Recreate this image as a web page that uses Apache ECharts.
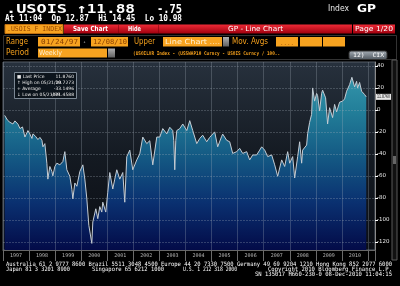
<!DOCTYPE html>
<html><head><meta charset="utf-8">
<script src="https://cdn.jsdelivr.net/npm/echarts@6/dist/echarts.min.js"></script>
<style>html,body{margin:0;padding:0;background:#000;}#c{width:400px;height:286px;}</style>
</head><body><div id="c"></div>
<script>
// ---- data ----
const weekDates = ['1997-01-24','1997-03-07','1997-04-08','1997-05-20','1997-06-17','1997-07-30','1997-08-27','1997-10-01','1997-11-04','1997-12-16',
'1998-01-13','1998-02-10','1998-02-24','1998-04-01','1998-05-05','1998-06-02','1998-06-30','1998-07-14','1998-08-10','1998-09-07','1998-09-21','1998-10-19','1998-11-16','1998-11-30','1998-12-28',
'1999-01-25','1999-03-08','1999-04-19','1999-05-17','1999-06-14','1999-07-26','1999-08-23','1999-09-06','1999-10-04','1999-11-01','1999-12-13',
'2000-01-24','2000-02-21','2000-03-20','2000-04-17','2000-05-29','2000-06-12','2000-07-24','2000-08-21','2000-09-18','2000-10-16','2000-10-30','2000-12-11',
'2001-01-08','2001-02-05','2001-03-19','2001-04-16','2001-05-14','2001-06-25','2001-08-06','2001-09-03','2001-10-01','2001-11-12','2001-12-24',
'2002-02-18','2002-04-01','2002-05-13','2002-07-08','2002-08-19','2002-09-30','2002-11-25',
'2003-01-06','2003-02-17','2003-04-14','2003-05-26','2003-07-07','2003-07-21','2003-08-04','2003-08-18','2003-09-01','2003-10-13','2003-11-24',
'2004-01-19','2004-03-01','2004-04-12','2004-06-07','2004-07-19','2004-08-30','2004-10-25','2004-12-06',
'2005-02-14','2005-03-28','2005-05-23','2005-06-06','2005-08-01','2005-09-12','2005-10-24','2005-12-19',
'2006-01-30','2006-03-13','2006-05-08','2006-06-19','2006-07-31','2006-09-25','2006-11-06','2006-12-04',
'2007-01-15','2007-02-26','2007-04-23','2007-06-04','2007-07-16','2007-09-10','2007-10-22','2007-12-03','2007-12-31',
'2008-02-11','2008-03-10','2008-04-21','2008-05-19','2008-06-16','2008-06-30','2008-08-25','2008-09-08','2008-10-06','2008-11-03','2008-11-17','2008-12-15',
'2009-01-12','2009-01-26','2009-02-23','2009-03-23','2009-04-06','2009-05-18','2009-06-15','2009-07-13','2009-08-24','2009-09-21','2009-10-19','2009-11-30',
'2010-01-11','2010-02-08','2010-03-08','2010-04-19','2010-05-21','2010-06-28','2010-07-26','2010-08-09','2010-09-06','2010-10-04','2010-10-18','2010-11-15','2010-12-08'];
const usoisValues = [-5,-9.5,-11.3,-12.8,-10,-13,-17,-15.5,-24.7,-18.8,
-22,-26,-21.8,-24,-27,-25,-27.7,-33.6,-30.7,-48.5,-63,-51.5,-56,-60,-51.5,
-48.5,-50,-47,-38,-54.5,-60.4,-72.3,-81,-66.5,-69.5,-56,
-50,-63,-81,-105,-121.5,-102,-90,-99,-88,-93,-84,-93,
-75,-57,-72,-63,-54.5,-63,-57,-84,-42.6,-36.6,-54.5,
-45.5,-40,-24.7,-30.7,-28,-50,-24.7,
-24.7,-17,-21.8,-15.8,-18.8,-28,-54.5,-28,-18.8,-17,-12.8,
-18.8,-9.8,-18.8,-30.7,-26,-23,-29,-25,
-20,-33.6,-24,-22,-27.7,-29,-39.6,-38,
-35,-39.6,-38,-45.5,-41,-41,-36.6,-33.6,
-36.6,-42.5,-41,-50,-60.4,-45.5,-51.5,-38,-48.5,
-42.5,-62,-42.5,-29,-48.5,-36.6,-32,-21.7,-11.3,-4,20,8,
15,13,-1,15,18,11,-12.8,2,-7,5,-1.8,7,
8,10,17,23,29.7,21,26,20,25,17,18,14,11.88];
const yTickValues = [40,20,0,-20,-40,-60,-80,-100,-120];
const legendRows = [['■ Last Price','11.8760'],['↑ High on 05/21/10','29.7273'],['+ Average','-33.1496'],['↓ Low on 05/21/99','-121.4588']];
const lastPrice = 11.876;

function decYear(s){const [y,m,d]=s.split('-').map(Number);const a=Date.UTC(y,0,1),b=Date.UTC(y+1,0,1);return y+(Date.UTC(y,m-1,d)-a)/(b-a);}
const seriesData = weekDates.map((d,i)=>[decYear(d),usoisValues[i]]);

const ctx = document.createElement('canvas').getContext('2d');
function T(str,x,y,size,weight,fill,w,align,family){
  const font = weight+' '+size+'px '+(family||'"DejaVu Sans Mono"');
  ctx.font = font; const m = ctx.measureText(str).width;
  return {type:'text',x:x,y:y,scaleX:w?w/m:1,silent:true,z:100,style:{text:str,font:font,fill:fill,align:align||'left',verticalAlign:'middle'}};
}
function R(x,y,w,h,fill,stroke,r){return {type:'rect',silent:true,z:99,shape:{x:x,y:y,width:w,height:h,r:r||0},style:{fill:fill,stroke:stroke||null,lineWidth:1}};}
const G = (a,b)=>new echarts.graphic.LinearGradient(0,0,0,1,[{offset:0,color:a},{offset:1,color:b}]);
const AMB='#f5a01c', BOX='#f7a320';

const gfx = [
  // row 1
  T('.USOIS',6,9.5,13,'bold','#ffffff',61),
  T('↑11.88',77,9.5,13,'bold','#ffffff',58),
  T('-.75',157,9.5,13,'bold','#ffffff',25),
  T('Index',328,9,9,'normal','#e8e8e8',21,'left','"DejaVu Sans"'),
  T('GP',357,9,11,'bold','#ffffff',19,'left','"DejaVu Sans"'),
  // row 2
  T('At 11:04  Op 12.87  Hi 14.45  Lo 10.98',5,18.5,8,'bold','#ffffff',177),
  // row 3
  R(5,24.5,58,9,BOX,'#c07010'),
  T('.USOIS F INDEX',7,29,7,'normal','#9a4800',55),
  R(64,24.5,288,9,G('#ee2a36','#a0000e')),
  R(118,25,0.5,8,'#700008'), R(158,25,0.5,8,'#700008'),
  T('Save Chart',73,29,7,'bold','#ffffff',35,'left','"DejaVu Sans"'),
  T('Hide',128,29,7,'bold','#ffffff',13,'left','"DejaVu Sans"'),
  T('GP - Line Chart',228,29,7,'normal','#ffffff',55,'left','"DejaVu Sans"'),
  R(353,24.5,42,9,G('#ee2a36','#a0000e')),
  T('Page 1/20',355,29,7,'normal','#ffffff',38,'left','"DejaVu Sans"'),
  // rows 4-5 frame
  R(3.5,35.5,393,24,null,'#333333'),
  // row 4
  T('Range',6,42,8,'normal',AMB,22,'left','"DejaVu Sans"'),
  R(38,37,42,9.5,BOX), T('01/24/97',41,42,7,'normal','#8a4000',37),
  T('-',83,42,7,'normal','#ffffff',3),
  R(91,37,37,9.5,BOX), T('12/08/10',93,42,7,'normal','#8a4000',34),
  T('Upper',134,42,8,'normal',AMB,21,'left','"DejaVu Sans"'),
  R(163,37,59,9.5,BOX), T('Line Chart ....',165,42,7,'normal','#fff0d0',55,'left','"DejaVu Sans"'),
  R(223,37,6,9.5,G('#b0b0b0','#606060')),
  T('Mov. Avgs',232,42,8,'normal',AMB,36,'left','"DejaVu Sans"'),
  R(276,37,22,9.5,BOX), R(300,37,22,9.5,BOX), R(323,37,22,9.5,BOX),
  T('....',280,43,7,'normal','#b06010',14),
  // row 5
  T('Period',6,53,8,'normal',AMB,23,'left','"DejaVu Sans"'),
  R(38,48.5,69,9,BOX), T('Weekly',39,53,7,'normal','#fff0d0',23,'left','"DejaVu Sans"'),
  R(108,48.5,7,9,G('#b0b0b0','#606060')),
  T('(USOILVR Index - (USSWAP10 Curncy - USOIS Curncy / 100..',133,54,5,'bold',AMB,147),
  R(349,51,38,8.5,G('#a8b0b8','#4c545c'),'#303030',2),
  T('12)  CIX',353,55.3,6,'normal','#ffffff',31),
  // right scrollbar
  R(392,60,5,200,'#111111','#5a5a5a'),
  R(393,156,3,8,'#666666'),
  // footer
  T('Australia 61 2 9777 8600 Brazil 5511 3048 4500 Europe 44 20 7330 7500 Germany 49 69 9204 1210 Hong Kong 852 2977 6000',6,264.3,6,'normal','#ffffff',386),
  T('Japan 81 3 3201 8900',6,269.3,6,'normal','#ffffff',64),
  T('Singapore 65 6212 1000',92,269.3,6,'normal','#ffffff',72),
  T('U.S. 1 212 318 2000',183,269.3,6,'normal','#ffffff',54),
  T('Copyright 2010 Bloomberg Finance L.P.',392,269.3,6,'normal','#ffffff',124,'right'),
  T('SN 135017 H660-230-0 08-Dec-2010 11:04:15',392,274.3,6,'normal','#ffffff',137,'right'),
  // legend box
  R(14.5,72.5,62,26,'#0c141c','#7c8894'),
];
legendRows.forEach((r,i)=>{
  gfx.push(T(r[0],17,76.5+i*6,4.5,'normal','#e8e8e8',null,'left','"DejaVu Sans"'));
  gfx.push(T(r[1],74,76.5+i*6,4.5,'normal','#e8e8e8',null,'right','"DejaVu Sans"'));
});

const chart = echarts.init(document.getElementById('c'),null,{renderer:'canvas'});
chart.setOption({
  backgroundColor:'#000000',
  animation:false,
  grid:{left:3,right:25,top:62,bottom:36,show:true,borderColor:'#555c66',borderWidth:1,
    backgroundColor:{type:'linear',x:0,y:0,x2:0,y2:1,colorStops:[{offset:0,color:'#27313d'},{offset:0.5,color:'#141a22'},{offset:1,color:'#0b0e14'}]}},
  xAxis:{type:'value',min:1997,max:2011.27,interval:1,z:5,
    axisLine:{show:true,onZero:false,lineStyle:{color:'#666'}},
    axisTick:{show:true,length:11,lineStyle:{color:'#6a6a6a'}},
    axisLabel:{fontSize:5,color:'#b8b8b8',margin:3,padding:[0,0,0,26],fontFamily:'"DejaVu Sans Mono"',
      formatter:v=>v<=2010?String(v):''},
    splitLine:{show:true,lineStyle:{color:'rgba(170,180,190,0.28)',width:1}}},
  yAxis:{type:'value',position:'right',min:-127.5,max:43.6,z:5,
    axisLine:{show:true,onZero:false,lineStyle:{color:'#8a8a8a'}},
    axisTick:{show:true,length:3,customValues:yTickValues,lineStyle:{color:'#ffffff'}},
    axisLabel:{fontSize:5.5,color:'#e6e6e6',margin:2,customValues:yTickValues,fontFamily:'"DejaVu Sans"'},
    splitLine:{show:true,lineStyle:{color:'rgba(170,180,190,0.28)',type:[2,1],width:1}}},
  series:[{type:'line',data:seriesData,showSymbol:false,z:2,
    lineStyle:{color:'#c4ccd4',width:1},
    areaStyle:{origin:'start',opacity:1,color:{type:'linear',x:0,y:62,x2:0,y2:250,global:true,
      colorStops:[{offset:0,color:'#3b9db2'},{offset:0.25,color:'#23809a'},{offset:0.5,color:'#145a84'},{offset:0.75,color:'#0a3070'},{offset:1,color:'#030b48'}]}}
  }],
  graphic:gfx
});
// last-price tag on the right axis, positioned through the axis scale
const yLast = chart.convertToPixel({yAxisIndex:0}, lastPrice);
gfx.push(R(376,yLast-3,15,6,'#e8e8e8'));
gfx.push(T(lastPrice.toFixed(4),383.5,yLast,5,'normal','#000000',13,'center','"DejaVu Sans"'));
chart.setOption({graphic:gfx});
</script></body></html>
